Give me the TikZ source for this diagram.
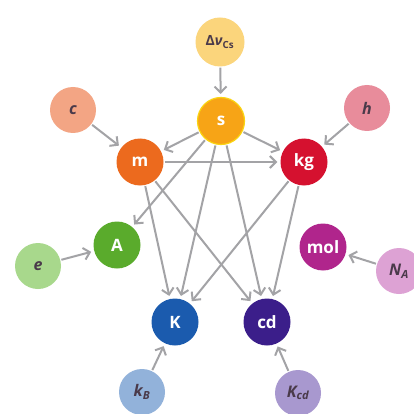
\documentclass[tikz,border=0pt]{standalone}
\usepackage{fontspec}
\setmainfont{Open Sans}
\usetikzlibrary{arrows.meta}
\definecolor{cdnu}{HTML}{FBD57C}
\definecolor{cs}{HTML}{F7A416}
\definecolor{cc}{HTML}{F3A584}
\definecolor{cm}{HTML}{EC6A1E}
\definecolor{ch}{HTML}{E88C9B}
\definecolor{ckg}{HTML}{D5112F}
\definecolor{ce}{HTML}{A8D88C}
\definecolor{cA}{HTML}{5AAB2C}
\definecolor{cmol}{HTML}{B0258C}
\definecolor{cNA}{HTML}{DDA2D4}
\definecolor{cK}{HTML}{1B5BAE}
\definecolor{ccd}{HTML}{3B1E8A}
\definecolor{ckB}{HTML}{92B2DA}
\definecolor{cKcd}{HTML}{A898CF}
\definecolor{linkgray}{HTML}{A3A3A6}
\definecolor{consttext}{HTML}{4A3A4A}
\begin{document}
\begin{tikzpicture}[x=1pt,y=-1pt,
  unitnode/.style={circle, minimum size=47pt, inner sep=0pt, text=white,
    font=\fontsize{17}{20}\selectfont\bfseries},
  constnode/.style={circle, minimum size=46pt, inner sep=0pt, text=consttext,
    font=\fontsize{16}{19}\selectfont\bfseries\itshape},
  link/.style={draw=linkgray, line width=2pt,
    -{Straight Barb[length=6pt,width=12pt,line width=2pt]},
    shorten >=3pt, shorten <=1pt}]
\clip (0,0) rectangle (414,414);
\fill[white] (0,0) rectangle (414,414);
% units
\node[unitnode, fill=cs, draw=yellow!60!cs, line width=1.2pt] (s) at (221,121) {s};
\node[unitnode, fill=cm] (m) at (140,162) {m};
\node[unitnode, fill=ckg] (kg) at (304,162) {kg};
\node[unitnode, fill=cA] (A) at (117,245) {A};
\node[unitnode, fill=cmol] (mol) at (323,247) {mol};
\node[unitnode, fill=cK] (K) at (175,322) {K};
\node[unitnode, fill=ccd] (cd) at (267,322) {cd};
% constants
\node[constnode, fill=cdnu, minimum size=49pt, font=\fontsize{14}{16}\selectfont\bfseries] (dnu) at (220,42) {Δ\textit{ν}\textsubscript{Cs}};
\node[constnode, fill=cc] (c) at (73,110) {c};
\node[constnode, fill=ch] (h) at (367,108) {h};
\node[constnode, fill=ce] (e) at (38,266) {e};
\node[constnode, fill=cNA] (NA) at (399,271) {N\textsubscript{A}};
\node[constnode, fill=ckB] (kB) at (142,392) {k\textsubscript{B}};
\node[constnode, fill=cKcd] (Kcd) at (298,393) {K\textsubscript{cd}};
% links from constants
\draw[link] (dnu) -- (s);
\draw[link] (c) -- (m);
\draw[link] (h) -- (kg);
\draw[link] (e) -- (A);
\draw[link] (NA) -- (mol);
\draw[link] (kB) -- (K);
\draw[link] (Kcd) -- (cd);
% links between units
\draw[link] (s) -- (m);
\draw[link] (s) -- (kg);
\draw[link] (m) -- (kg);
\draw[link] (s) -- (A);
\draw[link] (s) -- (K);
\draw[link] (s) -- (cd);
\draw[link] (m) -- (K);
\draw[link] (m) -- (cd);
\draw[link] (kg) -- (K);
\draw[link] (kg) -- (cd);
\end{tikzpicture}
\end{document}
